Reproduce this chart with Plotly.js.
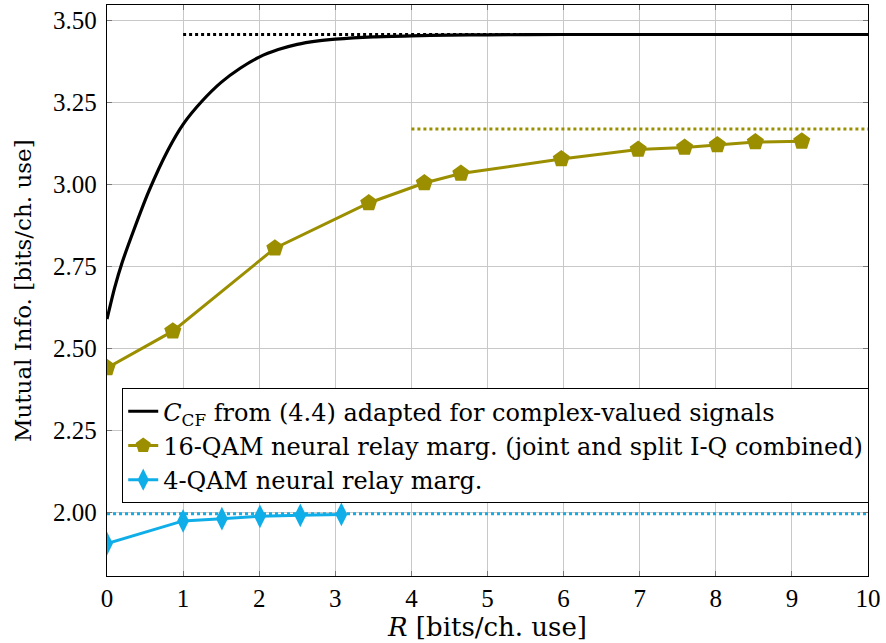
<!DOCTYPE html>
<html>
<head>
<meta charset="utf-8">
<script src="https://cdn.plot.ly/plotly-3.0.1.min.js"></script>
<style>html,body{margin:0;padding:0;background:#fff;}#chart{width:886px;height:643px;}</style>
</head>
<body>
<div id="chart"></div>
<script>
// C_CF curve
const cfR = [0, 0.1, 0.2, 0.35, 0.55, 0.8, 1.0, 1.25, 1.5, 1.75, 2.0, 2.25, 2.5, 2.75, 3.0, 3.5, 4, 4.5, 5, 6, 7, 8, 10];
const cfMI = [2.59, 2.685, 2.763, 2.86, 2.98, 3.105, 3.184, 3.255, 3.312, 3.355, 3.389, 3.412, 3.428, 3.438, 3.444, 3.451, 3.454, 3.456, 3.457, 3.458, 3.458, 3.458, 3.458];
const cfLimit = 3.458;
const cfLimitR = [1, 10];

// 16-QAM neural relay
const qam16R = [0, 0.865, 2.206, 3.44, 4.17, 4.65, 5.97, 6.98, 7.59, 8.02, 8.52, 9.13];
const qam16MI = [2.441, 2.553, 2.806, 2.944, 3.005, 3.034, 3.078, 3.107, 3.113, 3.121, 3.130, 3.132];
const qam16Limit = 3.17;
const qam16LimitR = [4, 10];

// 4-QAM neural relay
const qam4R = [0, 1.0, 1.51, 2.01, 2.54, 3.08];
const qam4MI = [1.905, 1.974, 1.981, 1.988, 1.991, 1.994];
const qam4Limit = 1.996;
const qam4LimitR = [0, 10];

const legendLabels = [
  '<i>C</i><sub>CF</sub> from (4.4) adapted for complex-valued signals',
  '16-QAM neural relay marg. (joint and split I-Q combined)',
  '4-QAM neural relay marg.'
];
const xTitle = '<i>R</i> [bits/ch. use]';
const yTitle = 'Mutual Info. [bits/ch. use]';
const xTicks = [0,1,2,3,4,5,6,7,8,9,10];
const yTicks = [2.00, 2.25, 2.50, 2.75, 3.00, 3.25, 3.50];
const yTickText = ['2.00','2.25','2.50','2.75','3.00','3.25','3.50'];

const black = '#000000', olive = '#9b8f00', cyan = '#10aee8';
const TFONT = 'Liberation Serif, Times New Roman, serif';
const LFONT = 'DejaVu Serif, serif';

const traces = [
  {x: cfLimitR, y: cfLimitR.map(()=>cfLimit), mode:'lines', line:{color:black, width:3, dash:'dot'}, showlegend:false, hoverinfo:'skip'},
  {x: qam16LimitR, y: qam16LimitR.map(()=>qam16Limit), mode:'lines', line:{color:olive, width:3, dash:'dot'}, showlegend:false, hoverinfo:'skip'},
  {x: qam4LimitR, y: qam4LimitR.map(()=>qam4Limit), mode:'lines', line:{color:cyan, width:3, dash:'dot'}, showlegend:false, hoverinfo:'skip'},
  {x: cfR, y: cfMI, mode:'lines', name: legendLabels[0], line:{color:black, width:3.2, shape:'spline', smoothing:0.6}},
  {x: qam16R, y: qam16MI, mode:'lines+markers', name: legendLabels[1], line:{color:olive, width:3}, marker:{symbol:'pentagon', size:18, color:olive}},
  {x: qam4R, y: qam4MI, mode:'lines+markers', name: legendLabels[2], line:{color:cyan, width:3}, marker:{symbol:'diamond-tall', size:17, color:cyan}}
];

const layout = {
  width: 886, height: 643,
  margin: {l:106.5, r:18, t:4.5, b:67},
  paper_bgcolor:'#fff', plot_bgcolor:'#fff',
  font: {family: LFONT, size: 22, color:'#000'},
  showlegend: true,
  legend: {x:0.02, y:0.329, xanchor:'left', yanchor:'top', bordercolor:'#000', borderwidth:1, bgcolor:'#fff',
           font:{family:LFONT, size:24, color:'#000'}, tracegroupgap:0},
  xaxis: {range:[0,10], tickvals:xTicks, ticktext:xTicks.map(String), showgrid:true, gridcolor:'#c8c8c8', gridwidth:1,
          zeroline:false, showline:true, linecolor:'#000', linewidth:1.2, mirror:'all', ticks:'inside', ticklen:5, tickcolor:'#777',
          tickfont:{family:TFONT, size:25}, title:{text:xTitle, font:{family:LFONT, size:26}, standoff:3}},
  yaxis: {range:[1.806, 3.548], tickvals:yTicks, ticktext:yTickText, showgrid:true, gridcolor:'#c8c8c8', gridwidth:1,
          zeroline:false, showline:true, linecolor:'#000', linewidth:1.2, mirror:'all', ticks:'inside', ticklen:5, tickcolor:'#777',
          tickfont:{family:TFONT, size:25}, ticklabelstandoff:4},
  annotations: [
    {text: yTitle, xref:'paper', yref:'paper', x:-0.111, y:0.5, xanchor:'center', yanchor:'middle', textangle:-90,
     showarrow:false, font:{family:LFONT, size:23, color:'#000'}}
  ]
};

Plotly.newPlot('chart', traces, layout, {displayModeBar:false, staticPlot:true});
</script>
</body>
</html>
